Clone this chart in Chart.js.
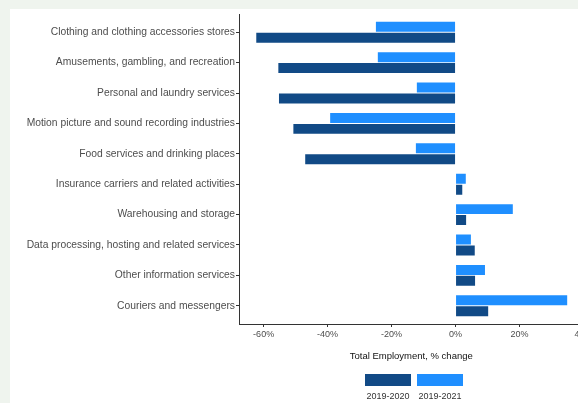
<!DOCTYPE html>
<html>
    <head>
        <meta charset="UTF-8" />
        <title>Total Employment, % change</title>
        <script src="https://cdn.jsdelivr.net/npm/chart.js@4.4.2/dist/chart.umd.min.js"></script>
        <style>
            html,
            body {
                margin: 0;
                padding: 0;
                overflow: hidden;
                background: #eff4ee;
                font-family: "Liberation Sans", Arial, sans-serif;
            }

            .panel {
                position: absolute;
                left: 10px;
                top: 9px;
                width: 600px;
                height: 400px;
                background: #ffffff;
            }

            #barChart {
                position: absolute;
                left: 0;
                top: 0;
            }

            .legend {
                position: absolute;
                left: 365px;
                top: 374px;
                display: flex;
                gap: 6px;
            }

            .legend-item {
                width: 46px;
                text-align: center;
                font-size: 9px;
                color: #333;
            }

            .legend-box {
                width: 46px;
                height: 12px;
                margin-bottom: 5px;
            }
        </style>
    </head>
    <body>
        <div class="panel"></div>
        <canvas id="barChart" width="600" height="403"></canvas>
        <div class="legend" id="legend"></div>

        <script>
            // --- data ---
            var categories = [
                "Clothing and clothing accessories stores",
                "Amusements, gambling, and recreation",
                "Personal and laundry services",
                "Motion picture and sound recording industries",
                "Food services and drinking places",
                "Insurance carriers and related activities",
                "Warehousing and storage",
                "Data processing, hosting and related services",
                "Other information services",
                "Couriers and messengers",
            ];
            var change2020 = [-62.3, -55.4, -55.2, -50.7, -47.0, 2.1, 3.3, 6.0, 6.1, 10.2];
            var change2021 = [-24.9, -24.3, -12.1, -39.2, -12.4, 3.2, 17.9, 4.8, 9.2, 34.9];
            var seriesLabels = ["2019-2020", "2019-2021"];
            var seriesColors = ["#114a86", "#1f8fff"];
            var xTicks = [-60, -40, -20, 0, 20, 40];

            function toPoints(values) {
                return values.map(function (v, i) {
                    return { x: v, y: i };
                });
            }

            // light series first so it sits on top inside each group
            var datasets = [
                {
                    label: seriesLabels[1],
                    data: toPoints(change2021),
                    backgroundColor: seriesColors[1],
                },
                {
                    label: seriesLabels[0],
                    data: toPoints(change2020),
                    backgroundColor: seriesColors[0],
                },
            ];

            var ctx = document.getElementById("barChart").getContext("2d");
            var barChart = new Chart(ctx, {
                type: "bar",
                data: { datasets: datasets },
                options: {
                    responsive: false,
                    animation: false,
                    indexAxis: "y",
                    categoryPercentage: 0.72,
                    barPercentage: 0.91,
                    layout: {
                        padding: { top: 14, left: 0, right: 16.5, bottom: 37 },
                    },
                    plugins: {
                        legend: { display: false },
                        tooltip: { enabled: false },
                    },
                    scales: {
                        x: {
                            type: "linear",
                            min: -67.7,
                            max: 40,
                            afterBuildTicks: function (axis) {
                                axis.ticks = xTicks.map(function (v) {
                                    return { value: v };
                                });
                            },
                            afterFit: function (axis) {
                                axis.height = 42;
                            },
                            border: { color: "#333", width: 1 },
                            grid: {
                                drawOnChartArea: false,
                                tickLength: 3,
                                color: "#333",
                            },
                            ticks: {
                                padding: 2,
                                color: "#4d4d4d",
                                font: { family: "Liberation Sans", size: 9 },
                                callback: function (value) {
                                    return value + "%";
                                },
                            },
                            title: {
                                display: true,
                                text: "Total Employment, % change",
                                color: "#111",
                                padding: { top: 4, bottom: 4 },
                                font: { family: "Liberation Sans", size: 9.5 },
                            },
                        },
                        y: {
                            type: "linear",
                            reverse: true,
                            offset: false,
                            min: -0.6,
                            max: categories.length - 0.4,
                            afterBuildTicks: function (axis) {
                                axis.ticks = categories.map(function (c, i) {
                                    return { value: i };
                                });
                            },
                            afterFit: function (axis) {
                                axis.width = 239;
                            },
                            border: { color: "#333", width: 1 },
                            grid: {
                                offset: false,
                                drawOnChartArea: false,
                                tickLength: 3,
                                color: "#333",
                            },
                            ticks: {
                                padding: 1,
                                color: "#4d4d4d",
                                font: { family: "Liberation Sans", size: 10.3 },
                                callback: function (value) {
                                    return categories[value];
                                },
                            },
                        },
                    },
                },
            });

            // --- ggplot-style legend: key on top, label underneath ---
            var legend = document.getElementById("legend");
            seriesLabels.forEach(function (label, i) {
                var item = document.createElement("div");
                item.className = "legend-item";
                item.innerHTML =
                    '<div class="legend-box" style="background:' + seriesColors[i] + '"></div>' + label;
                legend.appendChild(item);
            });
        </script>
    </body>
</html>
